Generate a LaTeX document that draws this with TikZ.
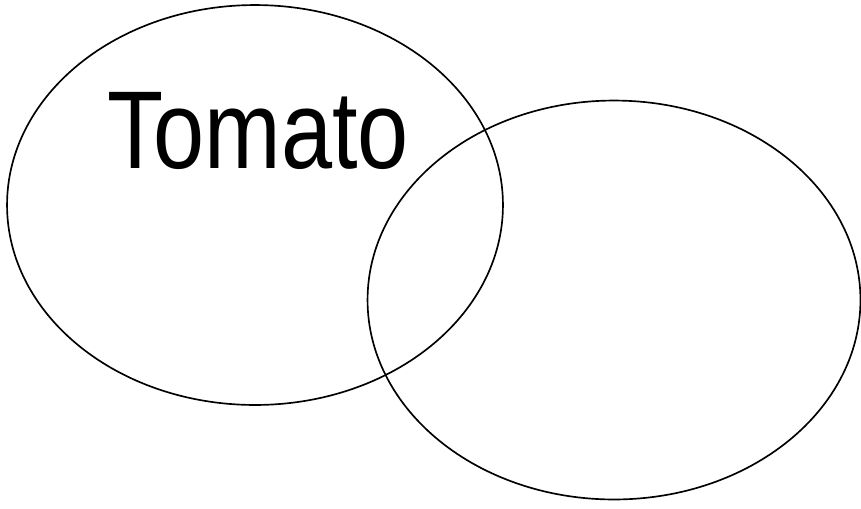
\documentclass[tikz,border=0pt]{standalone}
\usepackage{fontspec}
\setmainfont{Liberation Sans}
\usetikzlibrary{shapes.geometric}

\begin{document}
\begin{tikzpicture}[x=0.02cm, y=-0.02cm,
      set/.style={draw, ellipse, inner sep=0pt, line width=0.95pt},
      word/.style={anchor=base, inner sep=0pt, xscale=0.83,
                   font=\fontsize{63}{70}\selectfont}
  ]
    \useasboundingbox (0,0) rectangle (861,508);
    \node[set, minimum width=9.92cm, minimum height=8cm] (tomato) at (255,205) {};
    \node[set, minimum width=9.86cm, minimum height=7.98cm] (other) at (614,300) {};
    \node[word] (name) at (258,168) {Tomato};
  \end{tikzpicture}
\end{document}
